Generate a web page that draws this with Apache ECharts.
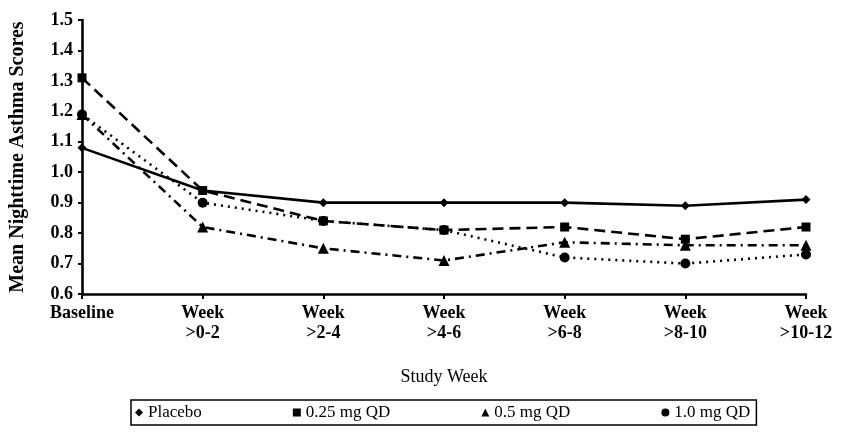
<!DOCTYPE html>
<html>
<head>
<meta charset="utf-8">
<script src="https://cdn.jsdelivr.net/npm/echarts@6/dist/echarts.min.js"></script>
<style>
  html, body { margin: 0; padding: 0; background: #fff; }
  #chart { width: 841px; height: 433px; }
</style>
</head>
<body>
<div id="chart"></div>
<script>
// Study periods along the x axis
const categories = ['Baseline', 'Week\n>0-2', 'Week\n>2-4', 'Week\n>4-6', 'Week\n>6-8', 'Week\n>8-10', 'Week\n>10-12'];

// Mean nighttime asthma scores per treatment group
const placebo = [1.08, 0.94, 0.90, 0.90, 0.90, 0.89, 0.91];
const dose025 = [1.31, 0.94, 0.84, 0.81, 0.82, 0.78, 0.82];
const dose05  = [1.19, 0.82, 0.75, 0.71, 0.77, 0.76, 0.76];
const dose10  = [1.19, 0.90, 0.84, 0.81, 0.72, 0.70, 0.73];

const seriesNames = ['Placebo', '0.25 mg QD', '0.5 mg QD', '1.0 mg QD'];
const yTicks = [0.6, 0.7, 0.8, 0.9, 1.0, 1.1, 1.2, 1.3, 1.4, 1.5];

const FONT = '"Liberation Serif", "Times New Roman", serif';
const INK = '#000';

function lineSeries(name, data, symbol, symbolSize, dash) {
  return {
    name: name,
    type: 'line',
    data: data,
    symbol: symbol,
    symbolSize: symbolSize,
    showAllSymbol: true,
    lineStyle: { color: INK, width: 2.6, type: dash, cap: 'butt' },
    itemStyle: { color: INK, borderWidth: 0 },
    emphasis: { disabled: true },
    animation: false,
    z: 3
  };
}

const chart = echarts.init(document.getElementById('chart'), null, { renderer: 'canvas' });

chart.setOption({
  backgroundColor: '#fff',
  animation: false,
  grid: { left: 82, right: 35, top: 20, bottom: 139, containLabel: false, outerBoundsMode: 'none' },
  legend: {
    left: 131,
    bottom: 8,
    orient: 'horizontal',
    itemWidth: 8,
    itemHeight: 8,
    itemGap: 91,
    padding: [4, 6, 4, 4],
    borderColor: INK,
    borderWidth: 1.5,
    textStyle: { fontFamily: FONT, fontSize: 17, color: INK },
    data: [
      { name: seriesNames[0], icon: 'diamond' },
      { name: seriesNames[1], icon: 'rect' },
      { name: seriesNames[2], icon: 'triangle' },
      { name: seriesNames[3], icon: 'circle' }
    ],
    selectedMode: false
  },
  xAxis: {
    type: 'category',
    data: categories,
    boundaryGap: false,
    name: 'Study Week',
    nameLocation: 'middle',
    nameGap: 74,
    nameTextStyle: { fontFamily: FONT, fontSize: 18, color: INK },
    axisLine: { lineStyle: { color: INK, width: 2.6 } },
    axisTick: { show: true, length: 5, lineStyle: { color: INK, width: 2 } },
    axisLabel: {
      fontFamily: FONT, fontSize: 18, fontWeight: 'bold', color: INK, lineHeight: 20, margin: 9,
      interval: 0
    },
    splitLine: { show: false }
  },
  yAxis: {
    type: 'value',
    min: yTicks[0],
    max: yTicks[yTicks.length - 1],
    interval: 0.1,
    name: 'Mean Nighttime Asthma Scores',
    nameLocation: 'middle',
    nameGap: 54,
    nameTextStyle: { fontFamily: FONT, fontSize: 20, fontWeight: 'bold', color: INK },
    axisLine: { show: true, lineStyle: { color: INK, width: 2.6 } },
    axisTick: { show: true, length: 4, lineStyle: { color: INK, width: 2 } },
    axisLabel: {
      fontFamily: FONT, fontSize: 18, fontWeight: 'bold', color: INK, margin: 9,
      formatter: v => v.toFixed(1)
    },
    splitLine: { show: false }
  },
  series: [
    lineSeries(seriesNames[0], placebo, 'diamond', 9, 'solid'),
    lineSeries(seriesNames[1], dose025, 'rect', 9, [11, 6]),
    lineSeries(seriesNames[2], dose05, 'triangle', 11, [9, 5, 2, 5]),
    lineSeries(seriesNames[3], dose10, 'circle', 10, [2, 5])
  ]
});
</script>
</body>
</html>
